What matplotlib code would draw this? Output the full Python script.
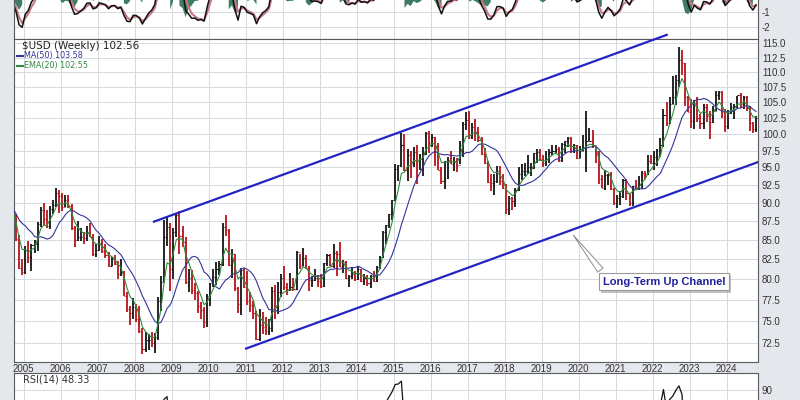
import numpy as np
import pandas as pd
import matplotlib
matplotlib.use("Agg")
import matplotlib.pyplot as plt
from matplotlib import patheffects
from matplotlib.ticker import FixedLocator, FixedFormatter, NullLocator

""" Monthly bars of the dollar index, Oct 2003 .. Oct 2024 (first year only warms up the averages) """
start_year, start_month = 2003, 10
closes = [93.8, 91.2, 86.9,
          87.3, 88.9, 88.6, 90.9, 88.8, 88.1, 89.0, 89.1, 87.8, 85.1, 81.4, 80.9,
          83.7, 82.8, 84.3, 84.4, 87.1, 89.0, 87.8, 86.8, 89.1, 89.7, 91.3, 90.9,
          89.4, 90.3, 89.6, 86.6, 85.0, 85.3, 85.3, 85.2, 86.0, 85.3, 83.2, 83.7,
          84.6, 83.6, 83.0, 81.7, 82.5, 81.9, 80.6, 80.9, 78.0, 76.4, 75.9, 76.7,
          75.3, 73.9, 71.8, 72.8, 72.8, 72.5, 73.2, 77.3, 79.6, 85.4, 86.7, 81.3,
          86.0, 88.3, 85.5, 84.7, 79.6, 80.2, 78.7, 78.3, 76.8, 76.3, 74.9, 77.9,
          79.5, 80.3, 81.2, 81.9, 86.7, 86.3, 81.8, 83.1, 78.9, 77.0, 81.1, 79.0,
          77.3, 76.9, 75.9, 73.0, 74.6, 74.3, 73.9, 74.2, 78.6, 76.9, 78.4, 80.2,
          79.0, 78.8, 79.0, 78.8, 83.4, 81.6, 82.7, 81.4, 79.9, 79.9, 80.2, 79.8,
          79.2, 82.0, 83.0, 81.6, 83.3, 83.2, 81.5, 82.2, 80.2, 80.4, 80.7, 80.0,
          81.2, 79.8, 80.1, 79.5, 80.4, 79.8, 81.5, 82.8, 86.0, 86.9, 88.4, 90.3,
          94.8, 95.3, 98.4, 94.6, 96.9, 95.5, 97.3, 96.0, 96.3, 97.0, 100.2, 98.6,
          99.6, 98.2, 94.6, 93.1, 95.9, 96.1, 95.5, 96.0, 95.4, 98.4, 101.5, 102.2,
          99.5, 101.1, 100.4, 99.1, 97.0, 95.6, 92.9, 92.7, 93.1, 94.5, 93.1, 92.1,
          89.1, 90.6, 90.2, 91.8, 94.0, 94.5, 94.5, 95.1, 95.1, 97.1, 97.3, 96.2,
          95.6, 96.2, 97.3, 97.5, 97.8, 96.1, 98.5, 98.9, 99.4, 97.4, 98.3, 96.4,
          97.4, 98.1, 99.0, 99.0, 98.3, 97.4, 93.4, 92.1, 93.9, 94.0, 91.9, 89.9,
          90.6, 90.9, 93.2, 91.3, 90.0, 92.4, 92.2, 92.6, 94.2, 94.1, 95.9, 95.7,
          96.5, 96.7, 98.3, 103.0, 101.8, 104.7, 105.9, 108.7, 112.1, 111.5, 105.9, 103.5,
          102.1, 104.9, 102.5, 101.7, 104.3, 102.9, 101.9, 103.6, 106.2, 106.7, 103.5, 101.3,
          103.3, 104.2, 104.5, 106.2, 104.7, 105.9, 104.1, 101.7, 100.8, 102.56]
highs = [95.0, 94.8, 91.2,
         88.7, 89.2, 90.1, 91.5, 92.2, 89.9, 89.4, 89.6, 89.5, 88.5, 85.6, 82.5,
         84.2, 84.8, 84.5, 85.0, 87.4, 89.4, 90.0, 89.0, 89.5, 90.3, 92.0, 91.7,
         91.3, 91.0, 91.0, 89.8, 86.8, 87.5, 86.5, 86.0, 86.8, 87.2, 85.8, 84.5,
         85.5, 85.1, 84.4, 83.4, 82.8, 83.0, 82.3, 82.5, 81.0, 78.4, 76.8, 77.7,
         77.0, 76.8, 74.2, 73.8, 73.5, 73.8, 73.6, 77.8, 80.4, 87.6, 88.2, 87.2,
         86.5, 88.4, 88.8, 86.8, 85.4, 81.2, 81.1, 79.5, 78.6, 77.2, 76.6, 78.2,
         79.5, 81.3, 82.1, 82.3, 87.2, 88.3, 86.4, 83.8, 83.2, 79.1, 81.4, 81.4,
         81.0, 78.4, 77.4, 76.2, 76.4, 76.1, 75.5, 75.2, 79.0, 79.3, 79.7, 80.7,
         81.6, 79.5, 80.8, 80.1, 83.5, 83.1, 83.9, 83.0, 81.6, 80.4, 81.3, 80.5,
         80.6, 82.0, 83.2, 83.1, 84.5, 83.6, 84.7, 82.4, 82.3, 80.5, 81.5, 81.0,
         81.5, 81.3, 80.6, 80.5, 80.5, 81.0, 81.6, 82.9, 86.1, 87.0, 88.4, 90.3,
         95.5, 95.3, 100.2, 100.0, 97.7, 97.4, 98.0, 98.3, 97.0, 98.0, 100.3, 100.5,
         100.0, 99.5, 98.7, 95.0, 96.0, 96.6, 97.5, 96.5, 96.4, 98.9, 101.9, 103.5,
         103.6, 101.8, 102.3, 101.1, 99.5, 97.9, 96.0, 94.1, 94.1, 95.2, 95.2, 94.0,
         92.6, 90.9, 90.8, 92.0, 95.0, 95.5, 95.6, 96.9, 95.7, 97.2, 97.7, 97.7,
         96.9, 97.4, 97.7, 98.3, 98.4, 98.0, 98.7, 99.0, 99.5, 99.5, 98.5, 98.4,
         98.2, 99.9, 103.7, 100.9, 100.6, 98.0, 97.4, 93.9, 94.7, 94.1, 94.3, 92.0,
         91.0, 91.6, 93.4, 93.4, 91.4, 92.4, 93.2, 93.7, 94.5, 94.5, 96.9, 96.9,
         97.4, 97.8, 99.4, 103.9, 105.0, 105.8, 109.3, 109.5, 114.4, 113.9, 111.6, 106.0,
         105.6, 105.4, 105.9, 103.1, 104.7, 104.7, 103.6, 104.4, 106.8, 106.9, 106.9, 104.0,
         103.8, 104.9, 104.7, 106.1, 106.5, 106.1, 106.1, 104.4, 101.9, 102.9]
lows = [92.5, 91.0, 86.8,
        84.9, 85.2, 86.9, 87.9, 88.5, 87.6, 86.8, 87.6, 87.6, 84.9, 81.2, 80.5,
        80.6, 82.0, 81.0, 83.3, 83.6, 86.7, 87.0, 86.5, 86.4, 88.4, 89.4, 88.6,
        88.8, 89.4, 89.2, 86.3, 84.0, 84.8, 84.9, 84.5, 84.9, 85.3, 82.9, 82.8,
        83.6, 83.3, 82.7, 81.5, 81.6, 81.8, 80.0, 80.4, 77.9, 76.1, 74.5, 75.3,
        74.9, 73.6, 71.3, 71.5, 71.7, 72.1, 71.4, 72.8, 76.2, 79.6, 84.2, 78.5,
        80.0, 85.4, 83.1, 84.0, 79.4, 78.4, 78.2, 77.5, 76.0, 75.2, 74.2, 74.3,
        76.8, 79.0, 79.3, 80.5, 81.7, 85.5, 81.6, 80.1, 78.6, 76.0, 75.7, 78.9,
        76.9, 76.1, 75.3, 72.9, 72.7, 73.5, 73.4, 73.4, 73.7, 75.2, 75.8, 77.8,
        78.7, 78.1, 78.6, 78.6, 78.7, 81.3, 81.7, 81.3, 78.6, 79.0, 79.8, 79.1,
        78.9, 79.1, 81.7, 81.6, 81.4, 80.4, 81.5, 80.8, 80.0, 79.0, 80.0, 79.8,
        79.9, 79.7, 79.3, 79.2, 78.9, 79.7, 79.7, 81.3, 82.6, 84.5, 86.6, 87.6,
        90.2, 93.1, 95.1, 94.5, 93.1, 93.5, 95.0, 92.6, 94.6, 93.8, 96.8, 97.2,
        98.0, 95.2, 94.6, 92.6, 91.9, 93.4, 95.5, 94.5, 94.4, 95.5, 96.6, 100.6,
        99.2, 99.2, 98.9, 98.8, 96.8, 95.5, 92.8, 91.6, 91.0, 92.8, 92.5, 91.9,
        88.4, 88.3, 89.0, 89.4, 91.6, 93.2, 93.7, 94.1, 93.8, 94.8, 95.7, 96.0,
        95.0, 95.2, 95.7, 96.8, 97.0, 95.8, 95.8, 97.2, 98.1, 97.1, 97.2, 96.3,
        96.4, 97.4, 94.4, 98.9, 97.9, 95.7, 92.6, 92.1, 91.7, 92.5, 91.8, 89.7,
        89.2, 89.7, 90.6, 90.4, 89.5, 89.5, 91.8, 91.8, 91.9, 93.3, 93.9, 95.5,
        94.6, 95.2, 96.7, 98.0, 101.3, 101.6, 104.7, 104.6, 107.6, 109.5, 104.4, 103.4,
        101.0, 100.8, 101.9, 100.8, 100.8, 101.9, 99.2, 101.7, 103.6, 105.4, 102.5, 100.3,
        100.8, 103.2, 102.4, 104.1, 104.1, 103.9, 103.6, 100.5, 100.2, 100.3]

years = list(range(2005, 2025))
price_ticks = [72.5, 75.0, 77.5, 80.0, 82.5, 85.0, 87.5, 90.0, 92.5, 95.0,
               97.5, 100.0, 102.5, 105.0, 107.5, 110.0, 112.5, 115.0]
osc_ticks = [-1, -2]
rsi_ticks = [90]

""" Channel lines and the callout, read off the picture (decimal year, price) """
upper_t, upper_v = [2008.52, 2022.38], [87.4, 116.5]
lower_t, lower_v = [2011.01, 2024.85], [71.9, 95.8]
note = "Long-Term Up Channel"
note_anchor = (2019.81, 85.9)
note_pos = (2022.31, 79.7)

title = "$USD (Weekly) 102.56"
ma_label = "MA(50) 103.58"
ema_label = "EMA(20) 102.55"
rsi_label = "RSI(14) 48.33"

plt.rcParams['font.family'] = ['Liberation Sans', 'DejaVu Sans']

""" Derived series """
close = pd.Series(closes)
t = start_year + (start_month - 1 + np.arange(len(closes)) + 0.5) / 12.0
opens = close.shift(1).fillna(close.iloc[0]).values
up = close.values >= opens
colors = np.where(up, '#151515', '#b8141a')
ma = close.rolling(12).mean()
ema = close.ewm(span=4.7, adjust=False).mean()
fast = close.ewm(span=3.0, adjust=False).mean()
slow = close.ewm(span=5.5, adjust=False).mean()
ppo = (fast - slow) / slow * 100
signal = ppo.ewm(span=2.5, adjust=False).mean()
hist = ppo - signal
delta = close.diff()
gain = delta.clip(lower=0).ewm(alpha=1 / 6.0, adjust=False).mean()
loss = (-delta.clip(upper=0)).ewm(alpha=1 / 6.0, adjust=False).mean()
rsi = 100 - 100 / (1 + gain / loss)

bg = '#e4e7ec'
grid_c = '#d5d9e1'
edge_c = '#5a5a5a'
xlim = (2004.746, 2024.84)

fig = plt.figure(figsize=(8, 4), dpi=100, facecolor=bg)
ax_top = fig.add_axes([0.0179, 0.90175, 0.9293, 0.1575])
ax = fig.add_axes([0.0179, 0.09575, 0.9293, 0.806])
ax_rsi = fig.add_axes([0.0179, -0.35075, 0.9293, 0.4175])

for a in (ax_top, ax, ax_rsi):
    a.set_facecolor('white')
    a.set_xlim(*xlim)
    a.xaxis.set_major_locator(FixedLocator(years))
    a.yaxis.tick_right()
    a.tick_params(axis='both', length=0, labelsize=7, labelcolor='#333333', pad=3)
    a.grid(True, color=grid_c, linewidth=0.7)
    a.set_axisbelow(True)
    for s in a.spines.values():
        s.set_color(edge_c)
        s.set_linewidth(0.8)

""" Top oscillator panel (only its lower part is in the frame) """
ax_top.fill_between(t, hist * 1.6, 0, where=hist < 0, color='#3f7c64', linewidth=0)
ax_top.plot(t, signal, color='#c77a86', linewidth=1.5)
ax_top.plot(t, ppo, color='#111111', linewidth=1.1)
ax_top.set_ylim(-2.875, 1.5)
ax_top.set_yticks(osc_ticks)
ax_top.set_yticklabels([str(v) for v in osc_ticks])
ax_top.tick_params(axis='x', labelbottom=False)

""" Price panel """
ax.set_yscale('log')
ax.set_ylim(70.46, 115.71)
ax.yaxis.set_major_locator(FixedLocator(price_ticks))
ax.yaxis.set_major_formatter(FixedFormatter(['%.1f' % v for v in price_ticks]))
ax.yaxis.set_minor_locator(NullLocator())
ax.set_xticklabels([str(y) for y in years])
ax.tick_params(axis='x', pad=2)

ax.vlines(t, lows, highs, colors=colors, linewidth=1.3, zorder=3)
ax.hlines(opens, t - 0.03, t, colors=colors, linewidth=0.8, zorder=3)
ax.hlines(closes, t, t + 0.03, colors=colors, linewidth=0.8, zorder=3)
ax.plot(t, ma, color='#34349a', linewidth=0.8, zorder=4)
ax.plot(t, ema, color='#2f8a3c', linewidth=0.8, zorder=4)

ax.plot(upper_t, upper_v, color='#2424c4', linewidth=1.6, clip_on=False, zorder=5)
ax.plot(lower_t, lower_v, color='#2424c4', linewidth=1.6, zorder=5)

ann = ax.annotate(note, xy=note_anchor, xytext=note_pos, ha='center', va='center',
                  fontsize=8, fontweight='bold', color='#20209e', zorder=6,
                  bbox=dict(boxstyle='square,pad=0.35', fc='white', ec='#9a9a9a', lw=0.8),
                  arrowprops=dict(arrowstyle='wedge,tail_width=0.6', fc='white',
                                  ec='#8c8c8c', lw=0.7, relpos=(0.02, 1.0)))
ann.get_bbox_patch().set_path_effects([
    patheffects.withSimplePatchShadow(offset=(1.5, -1.5), shadow_rgbFace='#9a9a9a', alpha=0.6)])

ax.text(0.010, 0.979, title, transform=ax.transAxes, fontsize=7.5,
        family='DejaVu Sans', color='#222222', va='center', ha='left')
ax.plot([0.004, 0.012], [0.949, 0.949], transform=ax.transAxes, color='#34349a', linewidth=1.5)
ax.text(0.0135, 0.949, ma_label, transform=ax.transAxes, fontsize=5.8,
        family='DejaVu Sans', color='#34349a', va='center', ha='left')
ax.plot([0.004, 0.012], [0.918, 0.918], transform=ax.transAxes, color='#2f8a3c', linewidth=1.5)
ax.text(0.0135, 0.918, ema_label, transform=ax.transAxes, fontsize=5.8,
        family='DejaVu Sans', color='#2f8a3c', va='center', ha='left')

""" RSI panel (only its top is in the frame) """
ax_rsi.plot(t, rsi, color='#111111', linewidth=0.9)
ax_rsi.set_ylim(0, 100)
ax_rsi.set_yticks(rsi_ticks)
ax_rsi.set_yticklabels([str(v) for v in rsi_ticks])
ax_rsi.tick_params(axis='x', labelbottom=False)
ax_rsi.text(0.012, 0.96, rsi_label, transform=ax_rsi.transAxes, fontsize=7,
            family='DejaVu Sans', color='#333333', va='center', ha='left')

fig.savefig('out.png', dpi=100, facecolor=bg)
